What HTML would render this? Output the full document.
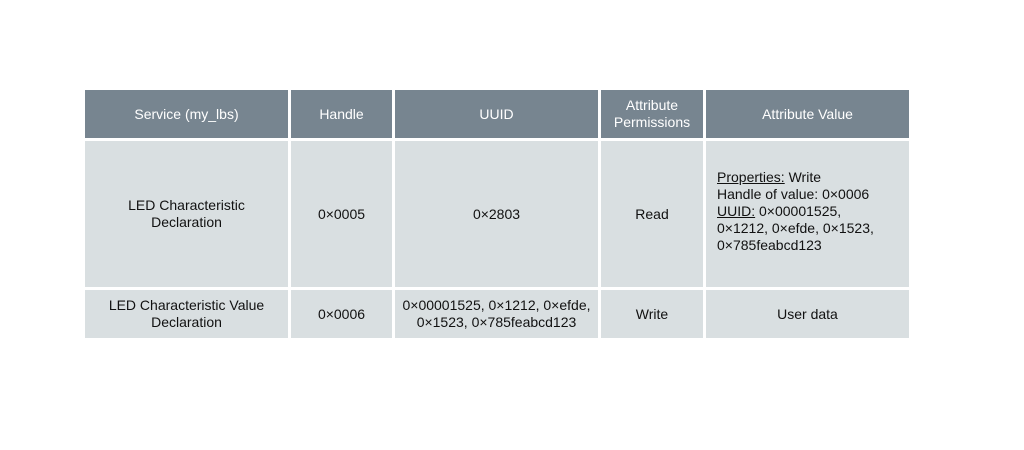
<!DOCTYPE html>
<html><head><meta charset="utf-8"><style>
body{margin:0;width:1024px;height:450px;background:#fff;position:relative;font-family:"Liberation Sans",sans-serif;overflow:hidden}
.c{position:absolute;display:flex;align-items:center;justify-content:center;text-align:center;font-size:14px;line-height:17px;color:#111;background:#d9dfe1;box-sizing:border-box}
.h{background:#778590;color:#fff}
.l{justify-content:flex-start;text-align:left;padding-left:11px;padding-bottom:6px}
u{text-decoration:underline}
</style></head><body>
<div class="c h" style="left:85px;top:90px;width:203px;height:48px">Service (my_lbs)</div>
<div class="c h" style="left:291px;top:90px;width:101px;height:48px">Handle</div>
<div class="c h" style="left:395px;top:90px;width:203px;height:48px">UUID</div>
<div class="c h" style="left:601px;top:90px;width:102px;height:48px">Attribute<br>Permissions</div>
<div class="c h" style="left:706px;top:90px;width:203px;height:48px">Attribute Value</div>

<div class="c" style="left:85px;top:141px;width:203px;height:146px">LED Characteristic<br>Declaration</div>
<div class="c" style="left:291px;top:141px;width:101px;height:146px">0×0005</div>
<div class="c" style="left:395px;top:141px;width:203px;height:146px">0×2803</div>
<div class="c" style="left:601px;top:141px;width:102px;height:146px">Read</div>
<div class="c l" style="left:706px;top:141px;width:203px;height:146px"><div><u>Properties:</u> Write<br>Handle of value: 0×0006<br><u>UUID:</u> 0×00001525,<br>0×1212, 0×efde, 0×1523,<br>0×785feabcd123</div></div>

<div class="c" style="left:85px;top:290px;width:203px;height:48px">LED Characteristic Value<br>Declaration</div>
<div class="c" style="left:291px;top:290px;width:101px;height:48px">0×0006</div>
<div class="c" style="left:395px;top:290px;width:203px;height:48px">0×00001525, 0×1212, 0×efde,<br>0×1523, 0×785feabcd123</div>
<div class="c" style="left:601px;top:290px;width:102px;height:48px">Write</div>
<div class="c" style="left:706px;top:290px;width:203px;height:48px">User data</div>
</body></html>
